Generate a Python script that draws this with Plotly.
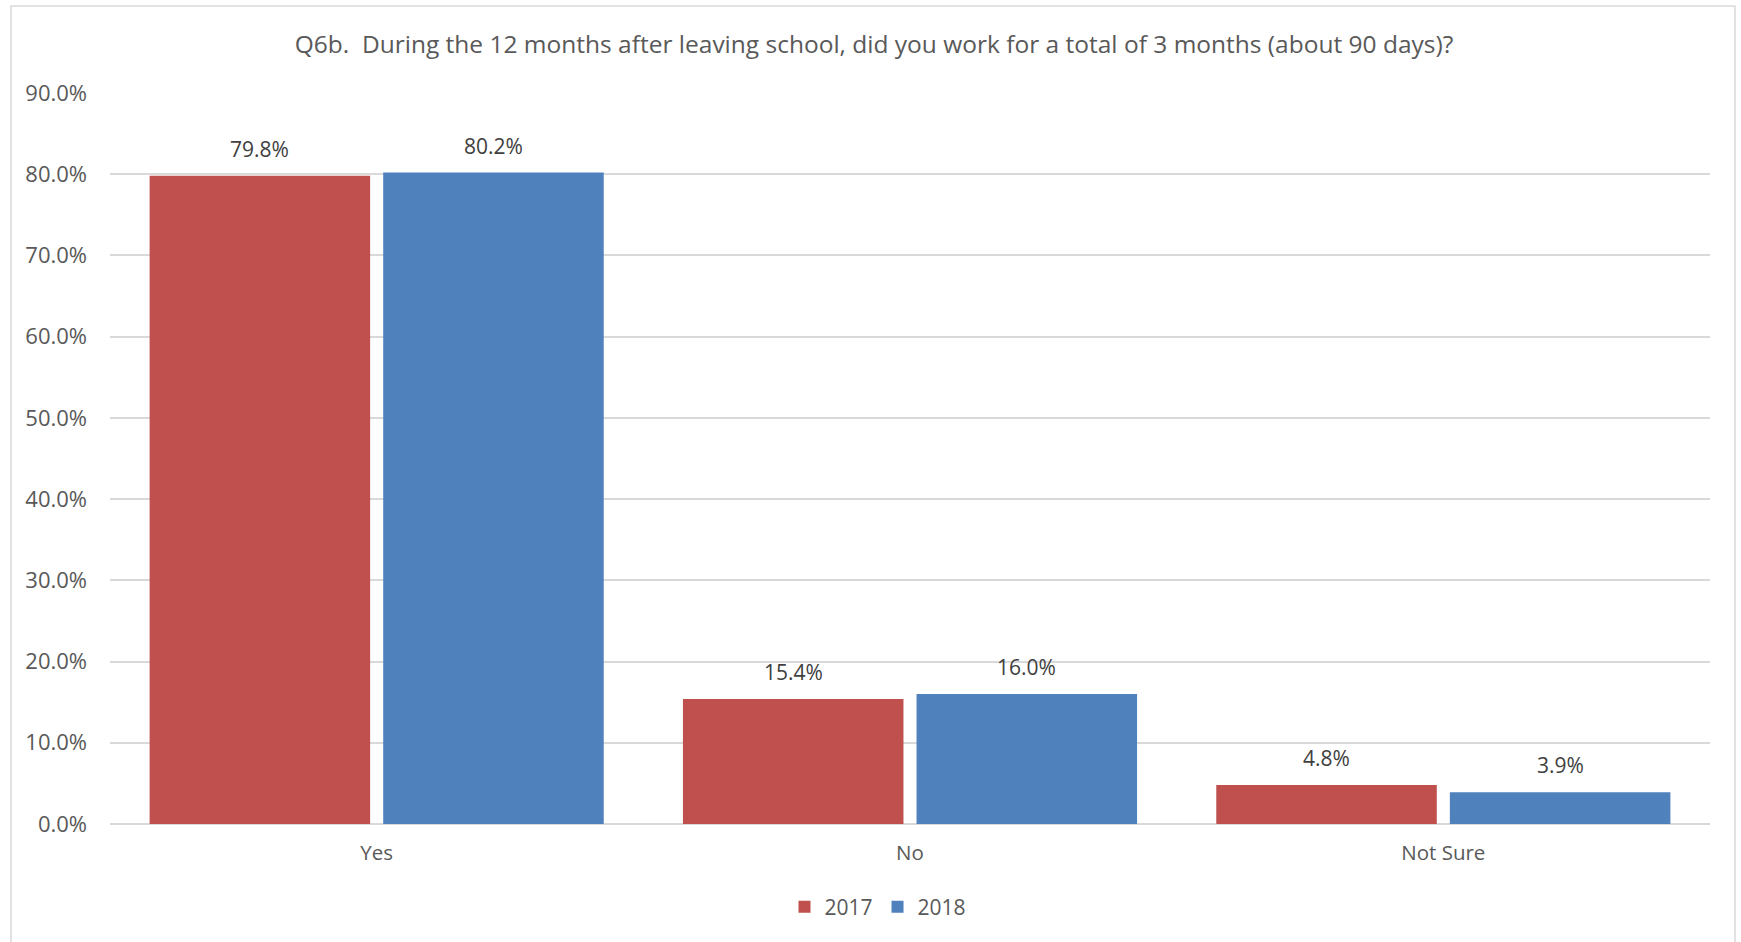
import plotly.graph_objects as go

categories = ["Yes", "No", "Not Sure"]
series_names = ["2017", "2018"]
values_2017 = [79.8, 15.4, 4.8]
values_2018 = [80.2, 16.0, 3.9]
y_ticks = [0, 10, 20, 30, 40, 50, 60, 70, 80, 90]
title_text = "Q6b.  During the 12 months after leaving school, did you work for a total of 3 months (about 90 days)?"

colors = ["#C0504D", "#4F81BD"]
FONT = "Open Sans"

W, H = 1741, 942
ml, mr, mt, mb = 110, 31, 93, 118
pw, ph = W - ml - mr, H - mt - mb

fig = go.Figure()
for name, vals, col in zip(series_names, [values_2017, values_2018], colors):
    fig.add_trace(go.Bar(x=categories, y=vals, name=name, marker=dict(color=col, line=dict(width=0))))

# data labels
slot = pw / len(categories)
offset = slot * (1 - 0.124) / 4
for i, vals in enumerate([values_2017, values_2018]):
    sh = -offset if i == 0 else offset
    for c, v in zip(categories, vals):
        fig.add_annotation(x=c, y=v, text=f"{v:.1f}%", showarrow=False, xshift=sh,
                           yanchor="bottom", yshift=11,
                           font=dict(family=FONT, size=21, color="#404040"))

# outer border
fig.add_shape(type="rect", xref="paper", yref="paper",
              x0=(11 - ml) / pw, x1=(1735 - ml) / pw,
              y0=-0.2, y1=(H - mb - 6) / ph,
              line=dict(color="#D9D9D9", width=1.5), fillcolor="rgba(0,0,0,0)", layer="below")

fig.update_layout(
    width=W, height=H,
    margin=dict(l=ml, r=mr, t=mt, b=mb),
    paper_bgcolor="white", plot_bgcolor="white",
    barmode="group", bargap=0.124, bargroupgap=0.056,
    title=dict(text=title_text, x=874 / W, xanchor="center", y=1 - 44 / H, yanchor="middle",
               font=dict(family=FONT, size=24.5, color="#595959")),
    legend=dict(orientation="h", x=(878 - ml) / pw, xanchor="center", xref="paper",
                y=-(907 - (H - mb)) / ph, yanchor="middle",
                font=dict(family=FONT, size=21, color="#595959"), itemwidth=30, traceorder="normal"),
    font=dict(family=FONT, color="#595959"),
    showlegend=True,
)
fig.update_yaxes(range=[0, 90], tickvals=y_ticks, ticktext=[f"{t:.1f}%" for t in y_ticks],
                 showgrid=True, gridcolor="#D9D9D9", gridwidth=1.5,
                 zeroline=True, zerolinecolor="#D9D9D9", zerolinewidth=2,
                 showline=False, ticks="", ticklabelstandoff=22,
                 tickfont=dict(family=FONT, size=22, color="#595959"), fixedrange=True)
fig.update_xaxes(showline=False, ticks="", tickfont=dict(family=FONT, size=20.5, color="#595959"),
                 ticklabelstandoff=14, fixedrange=True)

fig.write_html("out.html", config={"displayModeBar": False})

# remove default page margin so the figure sits at the window origin
with open("out.html", encoding="utf-8") as f:
    html = f.read()
html = html.replace("<head>", "<head><style>html,body{margin:0;padding:0;overflow:hidden;}</style>", 1)
with open("out.html", "w", encoding="utf-8") as f:
    f.write(html)
